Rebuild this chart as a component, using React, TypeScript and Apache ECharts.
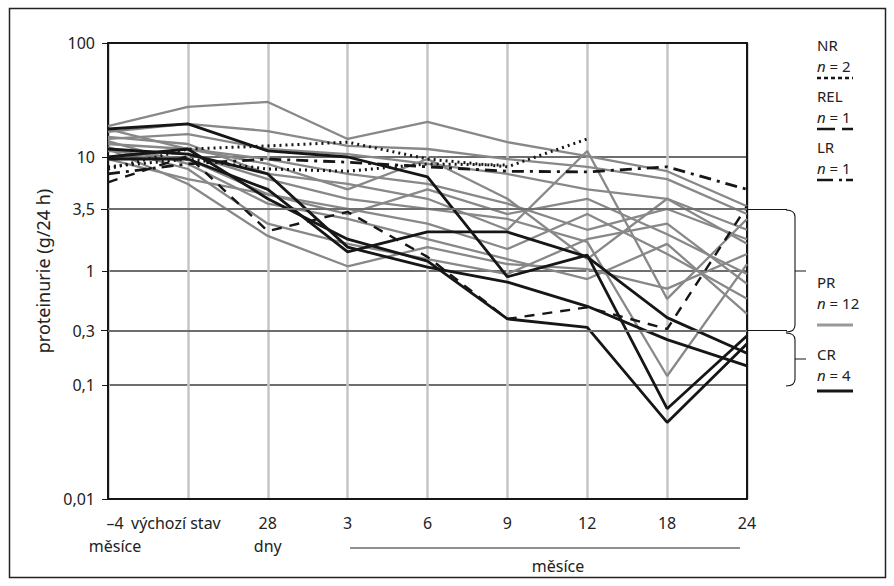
import React, { useEffect, useRef } from 'react';
import * as echarts from 'echarts';

const FONT = '"Noto Sans", Lato, sans-serif';
const FS = 16;

// x categories (time points)
const categories = ['–4\nměsíce', 'výchozí stav', '28\ndny', '3', '6', '9', '12', '18', '24'];

// extra y reference levels (besides decades)
const extraLevels = [3.5, 0.3];

// PR – partial remission (12 patients), proteinuria g/24 h
const prLines: number[][] = [
  [18.7, 27.5, 30.4, 14.4, 20.3, 13.5, 10.2, 7.5, 3.7],
  [16.6, 19.5, 16.9, 12.5, 11.75, 9.6, 8.2, 6.4, 3.16],
  [14.4, 15.9, 11.75, 10.6, 8.7, 7.1, 5.2, 4.3, 2.3],
  [13.0, 11.75, 9.6, 7.1, 5.8, 3.9, 2.3, 3.5, 1.9],
  [15.0, 13.0, 7.1, 5.8, 4.3, 2.3, 11.3, 0.57, 2.86],
  [11.75, 10.6, 6.4, 4.3, 3.5, 2.86, 1.8, 0.12, 1.15],
  [11.3, 9.6, 4.7, 3.5, 2.6, 1.56, 3.16, 1.41, 0.57],
  [13.8, 8.7, 3.9, 2.86, 1.9, 1.27, 0.85, 1.73, 0.42],
  [12.2, 7.85, 2.6, 1.73, 1.27, 0.94, 1.9, 2.6, 0.77],
  [11.75, 5.8, 2.03, 1.1, 1.62, 1.15, 1.04, 0.7, 1.41],
  [17.6, 11.75, 8.7, 5.2, 9.6, 4.3, 1.27, 4.3, 1.73],
  [9.6, 6.4, 4.7, 3.16, 5.2, 3.16, 4.3, 2.1, 0.94],
];

// CR – complete remission (4 patients)
const crLines: number[][] = [
  [17.6, 19.5, 11.3, 10, 6.7, 0.89, 1.38, 0.062, 0.27],
  [9.6, 9.6, 5.2, 1.47, 2.2, 2.2, 1.33, 0.39, 0.19],
  [10, 11.75, 4.3, 1.9, 1.22, 0.38, 0.32, 0.047, 0.23],
  [11.75, 10.6, 7.1, 1.62, 1.08, 0.8, 0.49, 0.25, 0.147],
];

// NR – no response (2 patients)
const nrLines: (number | null)[][] = [
  [7.85, 11.75, 12.5, 13.5, 9.6, 8.2, 14.4, null, null],
  [8.2, 9.6, 7.85, 7.5, 8.7, 8.5, null, null, null],
];

// REL – relapse (1 patient)
const relLine: number[] = [6.0, 10.2, 2.24, 3.3, 1.33, 0.38, 0.48, 0.31, 3.7];

// LR – late response (1 patient)
const lrLine: number[] = [7.1, 8.7, 9.6, 9.0, 8.2, 7.5, 7.4, 8.2, 5.2];

const fmt = (v: number) => String(v).replace('.', ',');

echarts.graphic.registerShape(
  'bracePR',
  echarts.graphic.extendPath('M786,210 Q795,210 795,217 L795,325 Q795,332 786,332 M795,271 L806,271', {})
);
echarts.graphic.registerShape(
  'braceCR',
  echarts.graphic.extendPath('M786,333 Q795,333 795,340 L795,379 Q795,386 786,386 M795,359 L806,359', {})
);

export default function App() {
  const ref = useRef<HTMLDivElement>(null);

  useEffect(() => {
    document.body.style.margin = '0';
    if (!ref.current) return;
    const chart = echarts.init(ref.current, null, { renderer: 'svg' });

    const black = '#161616';
    const series: any[] = [];

    const mlData: any[] = [];
    extraLevels.forEach((lv) => {
      mlData.push({ yAxis: lv, lineStyle: { color: '#6e6e6e', width: 2, type: 'solid' } });
      mlData.push([
        {
          x: 101,
          yAxis: lv,
          lineStyle: { color: black, width: 1, type: 'solid' },
          label: {
            show: true,
            position: 'start',
            formatter: fmt(lv),
            color: '#222',
            fontSize: FS,
            fontFamily: FONT,
            distance: 6,
          },
        },
        { x: 108, yAxis: lv },
      ]);
      mlData.push([
        { x: 748, yAxis: lv, lineStyle: { color: black, width: 1, type: 'solid' } },
        { x: 787, yAxis: lv },
      ]);
    });
    series.push({
      type: 'line',
      data: [],
      z: 1,
      silent: true,
      markLine: {
        silent: true,
        symbol: ['none', 'none'],
        label: { show: false },
        emphasis: { disabled: true },
        data: mlData,
      },
    });

    prLines.forEach((d, i) =>
      series.push({
        type: 'line',
        name: 'PR ' + (i + 1),
        data: d,
        symbol: 'none',
        z: 2,
        lineStyle: { color: '#888888', width: 2.3 },
      })
    );
    nrLines.forEach((d, i) =>
      series.push({
        type: 'line',
        name: 'NR ' + (i + 1),
        data: d,
        symbol: 'none',
        z: 3,
        lineStyle: { color: black, width: 3, type: [2, 4] },
      })
    );
    series.push({
      type: 'line',
      name: 'LR',
      data: lrLine,
      symbol: 'none',
      z: 3,
      lineStyle: { color: black, width: 2.8, type: [12, 6, 3, 6] },
    });
    series.push({
      type: 'line',
      name: 'REL',
      data: relLine,
      symbol: 'none',
      z: 3,
      lineStyle: { color: black, width: 2.4, type: [10, 8] },
    });
    crLines.forEach((d, i) =>
      series.push({
        type: 'line',
        name: 'CR ' + (i + 1),
        data: d,
        symbol: 'none',
        z: 4,
        lineStyle: { color: black, width: 2.8 },
      })
    );

    const LFS = 15;
    const legendBlocks = [
      { name: 'NR', n: '2', y: 45, lineY: 78, dash: [4, 3], color: black, width: 2.5 },
      { name: 'REL', n: '1', y: 96, lineY: 129, dash: [18, 7], color: black, width: 2.5 },
      { name: 'LR', n: '1', y: 147, lineY: 180, dash: [16, 6, 3, 4], color: black, width: 2.5 },
      { name: 'PR', n: '12', y: 282, lineY: 325, dash: null, color: '#999', width: 3 },
      { name: 'CR', n: '4', y: 354, lineY: 391, dash: null, color: black, width: 3 },
    ];
    const graphics: any[] = [
      {
        type: 'rect',
        shape: { x: 9.5, y: 8.5, width: 876, height: 569 },
        style: { fill: 'none', stroke: '#222', lineWidth: 1.5 },
        silent: true,
      },
      { type: 'bracePR', style: { fill: 'none', stroke: black, lineWidth: 1.1 }, silent: true },
      { type: 'braceCR', style: { fill: 'none', stroke: black, lineWidth: 1.1 }, silent: true },
      {
        type: 'line',
        shape: { x1: 350, y1: 548, x2: 740, y2: 548 },
        style: { stroke: '#222', lineWidth: 1.2 },
        silent: true,
      },
      {
        type: 'text',
        x: 558,
        y: 566,
        style: {
          text: 'měsíce',
          fontSize: FS,
          fontFamily: FONT,
          fill: '#222',
          align: 'center',
          verticalAlign: 'middle',
        },
        silent: true,
      },
    ];
    legendBlocks.forEach((b) => {
      graphics.push({
        type: 'text',
        x: 817,
        y: b.y,
        style: {
          text: b.name,
          fontSize: LFS,
          fontFamily: FONT,
          fill: '#222',
          verticalAlign: 'middle',
        },
        silent: true,
      });
      graphics.push({
        type: 'text',
        x: 817,
        y: b.y + 21,
        style: {
          text: '{i|n} = ' + b.n,
          fontSize: LFS,
          fontFamily: FONT,
          fill: '#222',
          verticalAlign: 'middle',
          rich: { i: { fontStyle: 'italic', fontSize: LFS, fontFamily: FONT, fill: '#222' } },
        },
        silent: true,
      });
      graphics.push({
        type: 'line',
        shape: { x1: 817, y1: b.lineY, x2: 853, y2: b.lineY },
        style: { stroke: b.color, lineWidth: b.width, lineDash: b.dash || undefined },
        silent: true,
      });
    });

    const xData = categories.map((c, i) =>
      i === 0
        ? { value: c, textStyle: { padding: [0, 0, 0, 14] } }
        : i === 1
        ? { value: c, textStyle: { padding: [0, 24, 0, 0] } }
        : c
    );

    chart.setOption({
      animation: false,
      backgroundColor: '#fff',
      textStyle: { fontFamily: FONT },
      grid: { left: 108, top: 43, width: 639, height: 456, containLabel: false },
      xAxis: [
        {
          type: 'category',
          data: xData,
          boundaryGap: false,
          axisLine: { show: true, lineStyle: { color: black, width: 2 } },
          axisTick: { show: false },
          axisLabel: {
            interval: 0,
            color: '#222',
            fontSize: FS,
            lineHeight: 23,
            margin: 12,
            fontFamily: FONT,
          },
          splitLine: { show: true, lineStyle: { color: '#c6c6c6', width: 2.5 } },
        },
        {
          type: 'category',
          data: categories,
          boundaryGap: false,
          position: 'top',
          axisLine: { show: true, lineStyle: { color: black, width: 2 } },
          axisTick: { show: false },
          axisLabel: { show: false },
          splitLine: { show: false },
        },
      ],
      yAxis: [
        {
          type: 'log',
          logBase: 10,
          min: 0.01,
          max: 100,
          name: 'proteinurie (g/24 h)',
          nameLocation: 'middle',
          nameGap: 55,
          nameRotate: 90,
          nameTextStyle: { fontSize: 18, color: '#222', fontFamily: FONT },
          axisLine: { show: true, lineStyle: { color: black, width: 2 } },
          axisTick: { show: true, length: 6, lineStyle: { color: black, width: 1 } },
          axisLabel: {
            color: '#222',
            fontSize: FS,
            margin: 13,
            fontFamily: FONT,
            formatter: (v: number) => fmt(v),
          },
          splitLine: { show: true, lineStyle: { color: '#6e6e6e', width: 2 } },
        },
        {
          type: 'log',
          logBase: 10,
          min: 0.01,
          max: 100,
          position: 'right',
          axisLine: { show: true, lineStyle: { color: black, width: 2 } },
          axisTick: { show: false },
          axisLabel: { show: false },
          splitLine: { show: false },
        },
      ],
      series,
      graphic: graphics,
    });

    return () => chart.dispose();
  }, []);

  return <div ref={ref} style={{ width: 894, height: 586 }} />;
}
